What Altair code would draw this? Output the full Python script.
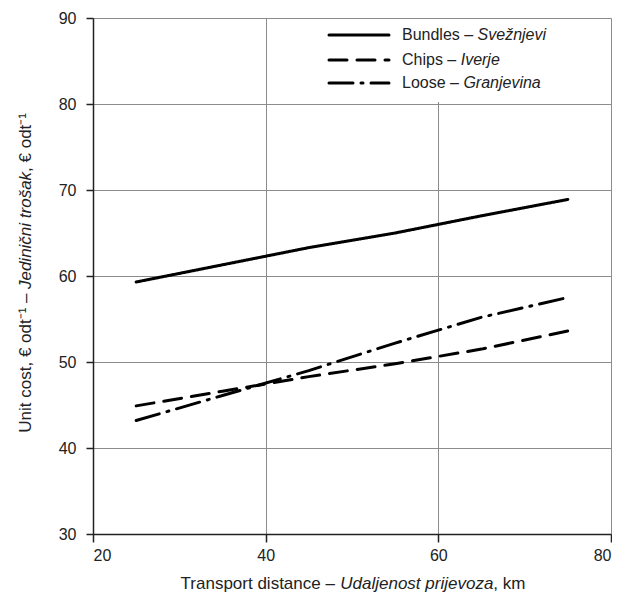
import altair as alt
import pandas as pd

# ---- data ----
distance_km = [25, 35, 45, 55, 65, 75]
bundles = [59.3, 61.3, 63.3, 65.0, 67.0, 68.9]
chips = [44.9, 46.6, 48.3, 49.8, 51.5, 53.6]
loose = [43.2, 46.1, 49.0, 52.2, 55.2, 57.5]

series_en = ["Bundles", "Chips", "Loose"]
series_hr = ["Svežnjevi", "Iverje", "Granjevina"]
x_ticks = [20, 40, 60, 80]
y_ticks = [30, 40, 50, 60, 70, 80, 90]

FONT = "Liberation Sans"
W, H = 518, 516

rows = []
for name, vals in zip(series_en, [bundles, chips, loose]):
    for d, v in zip(distance_km, vals):
        rows.append({"distance": d, "cost": v, "series": name})
df = pd.DataFrame(rows)

dashes = [[1, 0], [18, 10], [24, 8, 2, 8]]

# Arial / Liberation Sans advance widths (per 1000 em) for text layout
CW = {" ": 278, ",": 278, ".": 278, "–": 556, "€": 556, "¹": 333, "⁻": 333,
      "a": 556, "b": 556, "c": 500, "d": 556, "e": 556, "f": 278, "g": 556,
      "h": 556, "i": 222, "j": 222, "k": 500, "l": 222, "m": 833, "n": 556,
      "o": 556, "p": 556, "r": 333, "s": 500, "t": 278, "u": 556, "v": 500,
      "z": 500, "ž": 500, "š": 500, "č": 500, "B": 667, "C": 722, "G": 778,
      "I": 278, "J": 500, "L": 556, "S": 667, "T": 611, "U": 722}


def tw(s, size):
    return sum(CW.get(c, 556) for c in s) * size / 1000.0


x_scale = alt.Scale(domain=[20, 80], nice=False, zero=False)
y_scale = alt.Scale(domain=[30, 90], nice=False, zero=False)

lines = alt.Chart(df).mark_line(strokeWidth=3, color="black", strokeCap="round").encode(
    x=alt.X("distance:Q", scale=x_scale,
            axis=alt.Axis(values=x_ticks, title=None, grid=True, gridColor="#8c8c8c",
                          gridWidth=1, domainColor="#222222", domainWidth=1.5,
                          tickColor="#222222", tickSize=8, tickWidth=1.5,
                          labelFontSize=16, labelColor="#222222", labelPadding=5,
                          labelFont=FONT)),
    y=alt.Y("cost:Q", scale=y_scale,
            axis=alt.Axis(values=y_ticks, title=None, grid=True, gridColor="#8c8c8c",
                          gridWidth=1, domainColor="#222222", domainWidth=1.5,
                          tickColor="#222222", tickSize=7, tickWidth=1.5,
                          labelFontSize=16, labelColor="#222222", labelPadding=10,
                          labelFont=FONT)),
    strokeDash=alt.StrokeDash("series:N",
                              scale=alt.Scale(domain=series_en, range=dashes),
                              legend=None),
    detail="series:N",
)

one = pd.DataFrame({"k": [0]})
base = alt.Chart(one)

layers = [lines]

# legend background box
layers.append(base.mark_rect(fill="white").encode(
    x=alt.value(227), x2=alt.value(512), y=alt.value(1), y2=alt.value(84)))

# legend entries
leg_y = [17, 42, 65]
LF = 16
for name, hr, dash, yy in zip(series_en, series_hr, dashes, leg_y):
    layers.append(base.mark_rule(strokeWidth=3, color="black", strokeCap="round",
                                 strokeDash=dash).encode(
        x=alt.value(236), x2=alt.value(296), y=alt.value(yy)))
    part1 = f"{name} –"
    layers.append(base.mark_text(text=part1, font=FONT, fontSize=LF, align="left",
                                 baseline="middle", color="#222222").encode(
        x=alt.value(309), y=alt.value(yy)))
    layers.append(base.mark_text(text=hr, font=FONT, fontSize=LF, fontStyle="italic",
                                 align="left", baseline="middle", color="#222222").encode(
        x=alt.value(309 + tw(part1 + " ", LF)), y=alt.value(yy)))

# x axis title (mixed upright / italic)
TF = 17
xt = ["Transport distance – ", "Udaljenost prijevoza", ", km"]
xt_total = sum(tw(s, TF) for s in xt)
x0 = 260 - xt_total / 2
styles = ["normal", "italic", "normal"]
pos = x0
for s, st in zip(xt, styles):
    layers.append(base.mark_text(text=s.rstrip(), font=FONT, fontSize=TF, fontStyle=st,
                                 align="left", baseline="alphabetic",
                                 color="#222222").encode(
        x=alt.value(pos), y=alt.value(571)))
    pos += tw(s, TF)

# y axis title (rotated, mixed upright / italic)
yt = ["Unit cost, € odt⁻¹ – ", "Jedinični trošak", ", € odt⁻¹"]
yt_total = sum(tw(s, TF) for s in yt)
y0 = 255 + yt_total / 2
pos = y0
for s, st in zip(yt, styles):
    layers.append(base.mark_text(text=s.rstrip(), font=FONT, fontSize=TF, fontStyle=st,
                                 align="left", baseline="alphabetic", angle=270,
                                 color="#222222").encode(
        x=alt.value(-62), y=alt.value(pos)))
    pos -= tw(s, TF)

chart = alt.layer(*layers).properties(
    width=W, height=H,
    autosize=alt.AutoSizeParams(type="none"),
    padding={"left": 85, "top": 10, "right": 1, "bottom": 60},
).configure_view(stroke=None).configure(font=FONT, background="white")

chart.save("out.html", embed_options={"renderer": "svg", "actions": False})
